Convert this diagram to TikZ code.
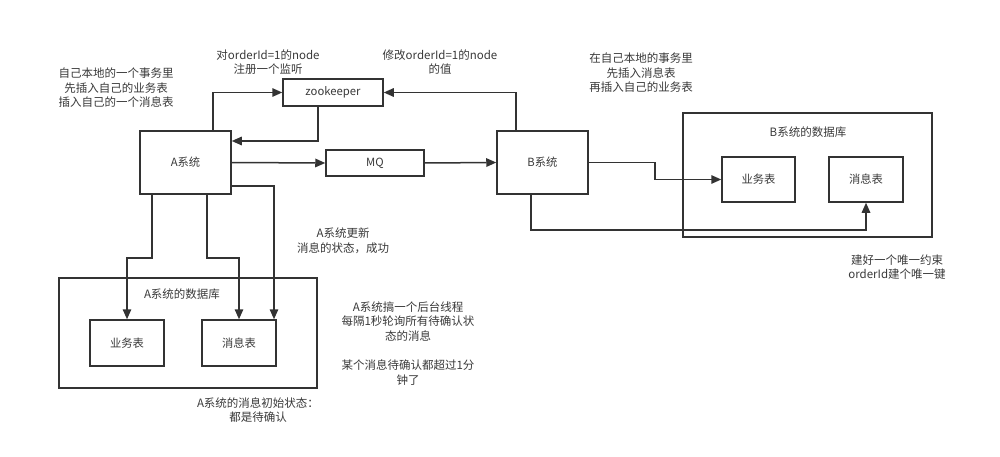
\documentclass[tikz,border=0pt]{standalone}
\usepackage{fontspec}
\setmainfont{Noto Sans CJK SC}
\usetikzlibrary{arrows.meta}
\definecolor{ln}{HTML}{333333}
\definecolor{tx}{HTML}{3A3A3A}
\begin{document}
\begin{tikzpicture}[x=1pt,y=-1pt,
  box/.style={draw=ln,line width=1.5pt,fill=white,inner sep=0pt,font=\fontsize{11.3pt}{14pt}\selectfont,text=tx},
  arr/.style={draw=ln,line width=1.5pt,-{Triangle[length=10pt,width=8.5pt]}},
  lbl/.style={align=center,inner sep=0pt,text=tx,font=\fontsize{11.5pt}{14.6pt}\selectfont}]
\useasboundingbox (0,0) rectangle (1000,457);
\fill[white] (0,0) rectangle (1000,457);
% databases
\node[box,minimum width=258,minimum height=110] (Adb) at (188,333) {};
\node[box,minimum width=249,minimum height=124] (Bdb) at (807.5,175) {};
\node[lbl] (Adbl) at (182,294) {A系统的数据库};
\node[lbl] (Bdbl) at (808,132) {B系统的数据库};
% boxes
\node[box,minimum width=91,minimum height=63] (A) at (185.5,162.5) {A系统};
\node[box,minimum width=100,minimum height=27] (zk) at (333,92.5) {zookeeper};
\node[box,minimum width=98,minimum height=26] (MQ) at (375,163) {MQ};
\node[box,minimum width=91,minimum height=63] (B) at (542.5,162.5) {B系统};
\node[box,minimum width=73,minimum height=45] (Bbiz) at (758.5,179.5) {业务表};
\node[box,minimum width=74,minimum height=45] (Bmsg) at (866,179.5) {消息表};
\node[box,minimum width=74,minimum height=46] (Abiz) at (127,343) {业务表};
\node[box,minimum width=74,minimum height=46] (Amsg) at (239,343) {消息表};
% connectors
\draw[arr] ([xshift=27.5pt]A.north) |- (zk.west);
\draw[arr] ([xshift=-15pt]zk.south) |- ([yshift=21.5pt]A.east);
\draw[arr] (A.east) -- (MQ.west);
\draw[arr] ([xshift=-26.5pt]B.north) |- (zk.east);
\draw[arr] (MQ.east) -- (B.west);
\draw[arr] (B.east) -- ++(66,0) |- (Bbiz.west);
\draw[arr] ([xshift=-11.5pt]B.south) |- ([yshift=-27pt]Bmsg.south) -- (Bmsg.south);
\draw[arr] ([xshift=-33.5pt]A.south) -- ++(0,63) -| (Abiz.north);
\draw[arr] ([xshift=21.5pt]A.south) -- ++(0,63) -| (Amsg.north);
\draw[arr] ([yshift=-23.5pt]A.east) -| ([xshift=35pt]Amsg.north);
% texts
\node[lbl] (t1) at (116,88) {自己本地的一个事务里\\先插入自己的业务表\\插入自己的一个消息表};
\node[lbl] (t2) at (268,62) {对orderId=1的node\\注册一个监听};
\node[lbl] (t3) at (440,62) {修改orderId=1的node\\的值};
\node[lbl] (t4) at (641,73) {在自己本地的事务里\\先插入消息表\\再插入自己的业务表};
\node[lbl] (t5) at (343,241) {A系统更新\\消息的状态，成功};
\node[lbl] (t6) at (408,343.5) {A系统搞一个后台线程\\每隔1秒轮询所有待确认状\\态的消息\\[14.6pt]某个消息待确认都超过1分\\钟了};
\node[lbl] (t7) at (258,410) {A系统的消息初始状态：\\都是待确认};
\node[lbl] (t8) at (897,267) {建好一个唯一约束\\orderId建个唯一键};
\end{tikzpicture}
\end{document}
